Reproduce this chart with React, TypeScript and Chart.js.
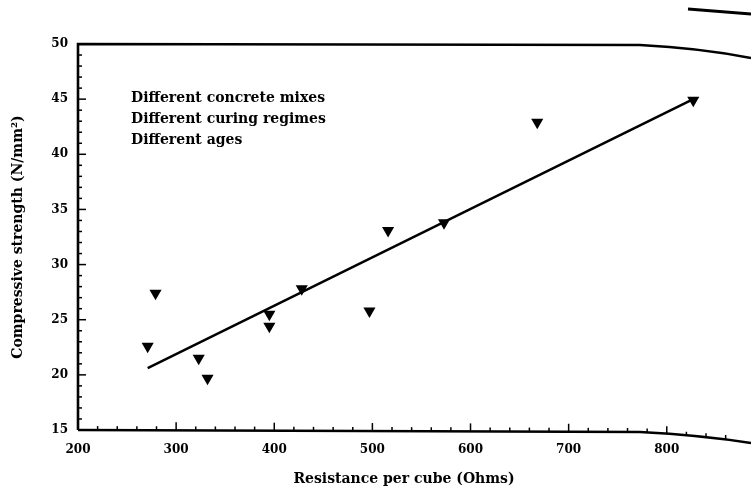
import React, { useEffect, useRef } from 'react';
import Chart from 'chart.js/auto';

// Data
const resistance = [271, 279, 323, 332, 395, 395, 428, 497, 516, 573, 668, 827];
const strength = [22.6, 27.4, 21.5, 19.7, 25.5, 24.4, 27.8, 25.8, 33.1, 33.8, 42.9, 44.9];
const fitX = [271, 827];
const fitY = [20.6, 45.0];
const xTicks = [200, 300, 400, 500, 600, 700, 800];
const yTicks = [15, 20, 25, 30, 35, 40, 45, 50];
const notes = ['Different concrete mixes', 'Different curing regimes', 'Different ages'];
const noteX = 254;
const noteY = [45.1, 43.2, 41.3];
const xTitle = 'Resistance per cube (Ohms)';
const yTitle = 'Compressive strength (N/mm²)';

const FONT = '"DejaVu Serif", "Liberation Serif", serif';

const decor = {
  id: 'decor',
  afterDraw(chart: any) {
    const { ctx, chartArea: a, scales } = chart;
    const xs = scales.x;
    const ys = scales.y;
    ctx.save();
    ctx.strokeStyle = '#000';
    ctx.lineCap = 'butt';
    ctx.lineJoin = 'miter';
    // frame (left, top with scan curl, bottom)
    ctx.lineWidth = 2.6;
    ctx.beginPath();
    ctx.moveTo(a.left, a.bottom);
    ctx.lineTo(a.left, a.top);
    ctx.lineTo(640, a.top + 1);
    ctx.quadraticCurveTo(700, a.top + 4, 751, a.top + 14);
    ctx.stroke();
    ctx.beginPath();
    ctx.moveTo(a.left, a.bottom);
    ctx.lineTo(640, a.bottom + 2);
    ctx.quadraticCurveTo(700, a.bottom + 5, 751, a.bottom + 13);
    ctx.stroke();
    // page-edge fragment at top right
    ctx.lineWidth = 3;
    ctx.beginPath();
    ctx.moveTo(688, 9);
    ctx.lineTo(751, 14);
    ctx.stroke();
    // inward ticks
    ctx.lineWidth = 1.5;
    for (let v = 15; v <= 50; v += 1) {
      const y = ys.getPixelForValue(v);
      const len = v % 5 === 0 ? 8 : 4;
      ctx.beginPath();
      ctx.moveTo(a.left, y);
      ctx.lineTo(a.left + len, y);
      ctx.stroke();
    }
    for (let v = 220; v <= 860; v += 20) {
      const x = xs.getPixelForValue(v);
      const len = v % 100 === 0 ? 8 : 4;
      const yb = a.bottom + (x > 640 ? 2 + ((x - 640) / 111) * 9 : ((x - a.left) / (640 - a.left)) * 2);
      ctx.beginPath();
      ctx.moveTo(x, yb);
      ctx.lineTo(x, yb - len);
      ctx.stroke();
    }
    // annotations
    ctx.fillStyle = '#000';
    ctx.font = `bold 14px ${FONT}`;
    ctx.textAlign = 'left';
    ctx.textBaseline = 'middle';
    notes.forEach((t, i) => {
      ctx.fillText(t, xs.getPixelForValue(noteX), ys.getPixelForValue(noteY[i]));
    });
    // axis titles
    ctx.font = `bold 14px ${FONT}`;
    ctx.textAlign = 'center';
    ctx.fillText(xTitle, 404, 479);
    ctx.translate(18, 237);
    ctx.rotate(-Math.PI / 2);
    ctx.fillText(yTitle, 0, 0);
    ctx.restore();
  },
};

export default function App() {
  const ref = useRef<HTMLCanvasElement>(null);
  useEffect(() => {
    if (!ref.current) return;
    const chart = new Chart(ref.current, {
      type: 'scatter',
      data: {
        datasets: [
          {
            label: 'Measurements',
            data: resistance.map((x, i) => ({ x, y: strength[i] })),
            pointStyle: 'triangle',
            rotation: 180,
            radius: 7,
            pointRadius: 7,
            backgroundColor: '#000',
            borderColor: '#000',
            borderWidth: 0,
            showLine: false,
          },
          {
            label: 'Fit',
            data: fitX.map((x, i) => ({ x, y: fitY[i] })),
            showLine: true,
            pointRadius: 0,
            borderColor: '#000',
            borderWidth: 2.5,
            fill: false,
          },
        ],
      },
      options: {
        animation: false,
        responsive: false,
        maintainAspectRatio: false,
        layout: { padding: { top: 44, left: 0, right: 0, bottom: 0 } },
        plugins: { legend: { display: false }, tooltip: { enabled: false } },
        scales: {
          x: {
            type: 'linear',
            min: 200,
            max: 878.7,
            afterFit: (s: any) => { s.height = 72; },
            afterBuildTicks: (s: any) => { s.ticks = xTicks.map((v) => ({ value: v })); },
            grid: { display: false, drawTicks: false },
            border: { display: false },
            ticks: {
              padding: 13,
              color: '#000',
              autoSkip: false,
              maxRotation: 0,
              font: { family: FONT, weight: 'bold', size: 12 },
            },
          },
          y: {
            type: 'linear',
            min: 15,
            max: 50,
            afterFit: (s: any) => { s.width = 78; },
            afterBuildTicks: (s: any) => { s.ticks = yTicks.map((v) => ({ value: v })); },
            grid: { display: false, drawTicks: false },
            border: { display: false },
            ticks: {
              padding: 10,
              color: '#000',
              autoSkip: false,
              font: { family: FONT, weight: 'bold', size: 12 },
            },
          },
        },
      },
      plugins: [decor],
    });
    return () => chart.destroy();
  }, []);
  return (
    <div style={{ position: 'fixed', left: 0, top: 0, width: 751, height: 502, background: '#fff' }}>
      <canvas ref={ref} width={751} height={502} style={{ display: 'block', width: 751, height: 502 }} />
    </div>
  );
}
